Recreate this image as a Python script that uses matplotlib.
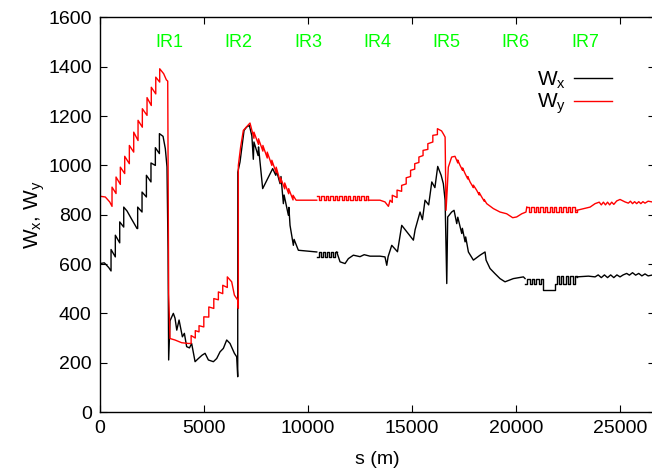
import numpy as np
import matplotlib
matplotlib.use("Agg")
import matplotlib.pyplot as plt

plt.rcParams['font.family'] = ['Liberation Sans', 'DejaVu Sans']
plt.rcParams['mathtext.fontset'] = 'custom'
plt.rcParams['mathtext.rm'] = 'Liberation Sans'
plt.rcParams['mathtext.it'] = 'Liberation Sans'

# W_y (red)
wy_s = [0, 255, 466, 577, 577, 770, 770, 977, 977, 1187, 1187, 1410, 1410,
        1620, 1620, 1828, 1828, 2035, 2035, 2260, 2260, 2465, 2465, 2680, 2680,
        2870, 2870, 3060, 3190, 3255, 3300, 3365, 3605, 3925, 4245, 4380, 4380, 4580,
        4580, 4760, 4760, 4990, 4990, 5230, 5230, 5470, 5470, 5690, 5690, 5900,
        5900, 6120, 6120, 6330, 6460, 6620, 6650, 6650, 6760, 6890, 7210, 7400,
        7400, 7620, 7620, 7830, 7830, 8040, 8040, 8260, 8260, 8470, 8470, 8680,
        8680, 8880, 8880, 9070, 9070, 9280, 9280, 9425, 10420]
wy_v = [875, 872, 852, 834, 912, 886, 953, 923, 993, 967, 1037, 1007, 1081,
        1054, 1135, 1101, 1183, 1155, 1230, 1203, 1275, 1243, 1317, 1290, 1358,
        1338, 1392, 1372, 1347, 1342, 481, 298, 292, 281, 278, 278, 310, 300,
        330, 325, 350, 345, 386, 385, 426, 420, 460, 455, 487, 480,
        514, 505, 548, 528, 474, 454, 420, 1000, 1075, 1142, 1172, 1110,
        1135, 1085, 1108, 1058, 1081, 1030, 1054, 1000, 1021, 970, 993, 930,
        950, 905, 929, 885, 906, 860, 879, 859, 859]
wy_sq1_s = [10420, 10530, 10640, 10750, 10850, 10960, 11070, 11180, 11280, 11390,
            11500, 11610, 11710, 11820, 11930, 12040, 12140, 12250, 12360, 12470,
            12570, 12680, 12790, 12900]
wy_sq1_v = [875, 859, 875, 859, 875, 859, 875, 859, 875, 859,
            875, 859, 875, 859, 875, 859, 875, 859, 875, 859,
            875, 859, 875, 859]
wy2_s = [12900, 13460, 13700, 13865, 13945, 14050, 14050, 14280, 14280, 14500, 14500,
         14720, 14720, 14930, 14930, 15130, 15130, 15330, 15330, 15530, 15530,
         15760, 15760, 16000, 16000, 16220, 16220, 16420, 16505, 16590, 16635,
         16690, 16745, 16905, 17065, 17200, 17200, 17310, 17430, 17430, 17550,
         17680, 17680, 17790, 17950, 17950, 18110, 18230, 18230, 18350, 18470,
         18470, 18590, 18910, 19230, 19550, 19840, 20030, 20275, 20480, 20515]
wy2_v = [859, 859, 852, 834, 859, 850, 879, 870, 900, 895, 919,
         925, 950, 955, 980, 985, 1007, 1012, 1034, 1040, 1061,
         1065, 1088, 1095, 1122, 1125, 1149, 1140, 1128, 1115, 818,
         900, 993, 1034, 1037, 1010, 1022, 1000, 980, 990, 967,
         945, 955, 933, 910, 920, 899, 880, 890, 872, 855,
         862, 845, 825, 811, 804, 788, 791, 804, 811, 831]
wy_sq2_s = [20515, 20620, 20730, 20840, 20950, 21060, 21170, 21280, 21390, 21500,
            21610, 21720, 21830, 21940, 22050, 22160, 22270, 22380, 22490, 22600,
            22710, 22820, 22920]
wy_sq2_v = [832, 812, 832, 812, 832, 812, 832, 812, 832, 812,
            832, 812, 832, 812, 832, 812, 832, 812, 832, 812,
            832, 812, 818]
wy3_s = [22920, 23560, 23800, 24000, 24100, 24200, 24300, 24400, 24500, 24600,
         24700, 24840, 25000, 25240, 25400, 25500, 25600, 25700, 25800, 25900,
         26000, 26100, 26200, 26350, 26540, 26659]
wy3_v = [818, 831, 845, 851, 840, 851, 840, 851, 840, 851,
         842, 856, 862, 852, 847, 855, 845, 853, 845, 853,
         845, 853, 847, 855, 852, 852]

# W_x (black)
wx_s = [0, 207, 418, 530, 530, 736, 736, 947, 947, 1140, 1140, 1300, 1500, 1780,
        1810, 1810, 2020, 2020, 2230, 2230, 2450, 2450, 2660, 2660, 2855, 2855,
        3030, 3140, 3220, 3270, 3300, 3365, 3525, 3605, 3690, 3800, 3960, 4055, 4165,
        4300, 4405, 4570, 4730, 4900, 5050, 5210, 5450, 5610, 5770, 5930, 6090,
        6250, 6460, 6570, 6620, 6625, 6730, 6925, 7050, 7180, 7300, 7370, 7400,
        7600, 7620, 7820, 8300, 8450, 8480, 8655, 8700, 8815, 8850, 9055, 9080,
        9135, 9295, 9330, 9535, 10420]
wx_v = [602, 605, 586, 572, 659, 629, 717, 686, 771, 750, 831, 815, 785, 744,
        744, 831, 811, 892, 872, 960, 933, 1010, 1000, 1072, 1048, 1129,
        1118, 1068, 994, 658, 211, 370, 400, 381, 332, 373, 305, 319, 265,
        260, 278, 204, 217, 230, 238, 211, 204, 217, 244, 258, 292,
        278, 238, 224, 143, 973, 1014, 1142, 1156, 1162, 1120, 1025, 1095,
        1040, 1075, 906, 987, 960, 980, 926, 955, 845, 880, 798, 830,
        757, 676, 700, 656, 649]
wx_sq1_s = [10420, 10520, 10620, 10720, 10820, 10920, 11020, 11120, 11220, 11320, 11380]
wx_sq1_v = [630, 649, 630, 649, 630, 649, 630, 649, 630, 649, 649]
wx2_s = [11380, 11540, 11780, 11940, 12180, 12500, 12700, 12980, 13460, 13700,
         13785, 13850, 14025, 14300, 14505, 15065, 15150, 15385, 15500, 15625,
         15800, 15950, 16100, 16235, 16400, 16505, 16590, 16670, 16715, 16905,
         17020, 17150, 17200, 17390, 17420, 17550, 17580, 17710, 17950, 18270,
         18510, 18560, 18750, 18990, 19230, 19470, 19870, 20355, 20435]
wx2_v = [649, 609, 602, 622, 636, 630, 638, 632, 632, 629,
         595, 630, 676, 650, 757, 697, 740, 811, 780, 859,
         840, 933, 910, 996, 960, 926, 859, 521, 791, 811,
         818, 764, 790, 724, 745, 690, 710, 649, 616, 636,
         649, 616, 582, 561, 541, 528, 541, 548, 541]
wx_sq2_s = [20435, 20540, 20650, 20760, 20870, 20980, 21090, 21200, 21300, 21475,
            21795, 21875, 21955, 22060, 22170, 22280, 22390, 22500, 22610, 22720,
            22830, 22920]
wx_sq2_v = [521, 541, 521, 541, 521, 541, 521, 541, 494, 494,
            494, 521, 551, 521, 551, 521, 551, 521, 551, 521,
            551, 548]
wx3_s = [22920, 23480, 23800, 23950, 24100, 24250, 24400, 24550, 24700, 24850,
         25000, 25150, 25320, 25450, 25600, 25750, 25900, 26050, 26200, 26350,
         26525, 26659]
wx3_v = [548, 551, 548, 556, 545, 556, 545, 556, 545, 556,
         548, 556, 562, 555, 565, 555, 562, 552, 560, 552,
         555, 555]

ir_labels = ['IR1', 'IR2', 'IR3', 'IR4', 'IR5', 'IR6', 'IR7']
ir_pos = [3332, 6665, 9997, 13330, 16662, 19994, 23327]

fig = plt.figure(figsize=(6.52, 4.70), dpi=100)
ax = fig.add_axes([0.1534, 0.1234, 0.8505, 0.8394])

ax.plot(wx_s, wx_v, color='black', lw=1.0, label=r'W$_{\rm x}$')
ax.plot(wx_sq1_s, wx_sq1_v, color='black', lw=1.0, drawstyle='steps-post')
ax.plot(wx2_s, wx2_v, color='black', lw=1.0)
ax.plot(wx_sq2_s, wx_sq2_v, color='black', lw=1.0, drawstyle='steps-post')
ax.plot(wx3_s, wx3_v, color='black', lw=1.0)

ax.plot(wy_s, wy_v, color='red', lw=1.0, label=r'W$_{\rm y}$')
ax.plot(wy_sq1_s, wy_sq1_v, color='red', lw=1.0, drawstyle='steps-post')
ax.plot(wy2_s, wy2_v, color='red', lw=1.0)
ax.plot(wy_sq2_s, wy_sq2_v, color='red', lw=1.0, drawstyle='steps-post')
ax.plot(wy3_s, wy3_v, color='red', lw=1.0)

for lab, p in zip(ir_labels, ir_pos):
    ax.text(p, 1500, lab, color='#00ff00', fontsize=13, ha='center', va='center')

ax.set_xlim(0, 26659)
ax.set_ylim(0, 1600)
ax.set_xticks([0, 5000, 10000, 15000, 20000, 25000])
ax.set_yticks(range(0, 1601, 200))
ax.tick_params(direction='in', length=5, top=True, right=True, labelsize=14, pad=6)
for sp in ax.spines.values():
    sp.set_linewidth(1.0)
ax.set_xlabel('s (m)', fontsize=14, labelpad=10)
ax.set_ylabel(r'W$_{\rm x}$, W$_{\rm y}$', fontsize=15, labelpad=1)

ax.legend(loc='upper right', bbox_to_anchor=(0.942, 0.895), frameon=False,
          markerfirst=False, fontsize=15, handlelength=1.8, handletextpad=0.4,
          labelspacing=0.05, borderpad=0)

fig.savefig('out.png', dpi=100)
